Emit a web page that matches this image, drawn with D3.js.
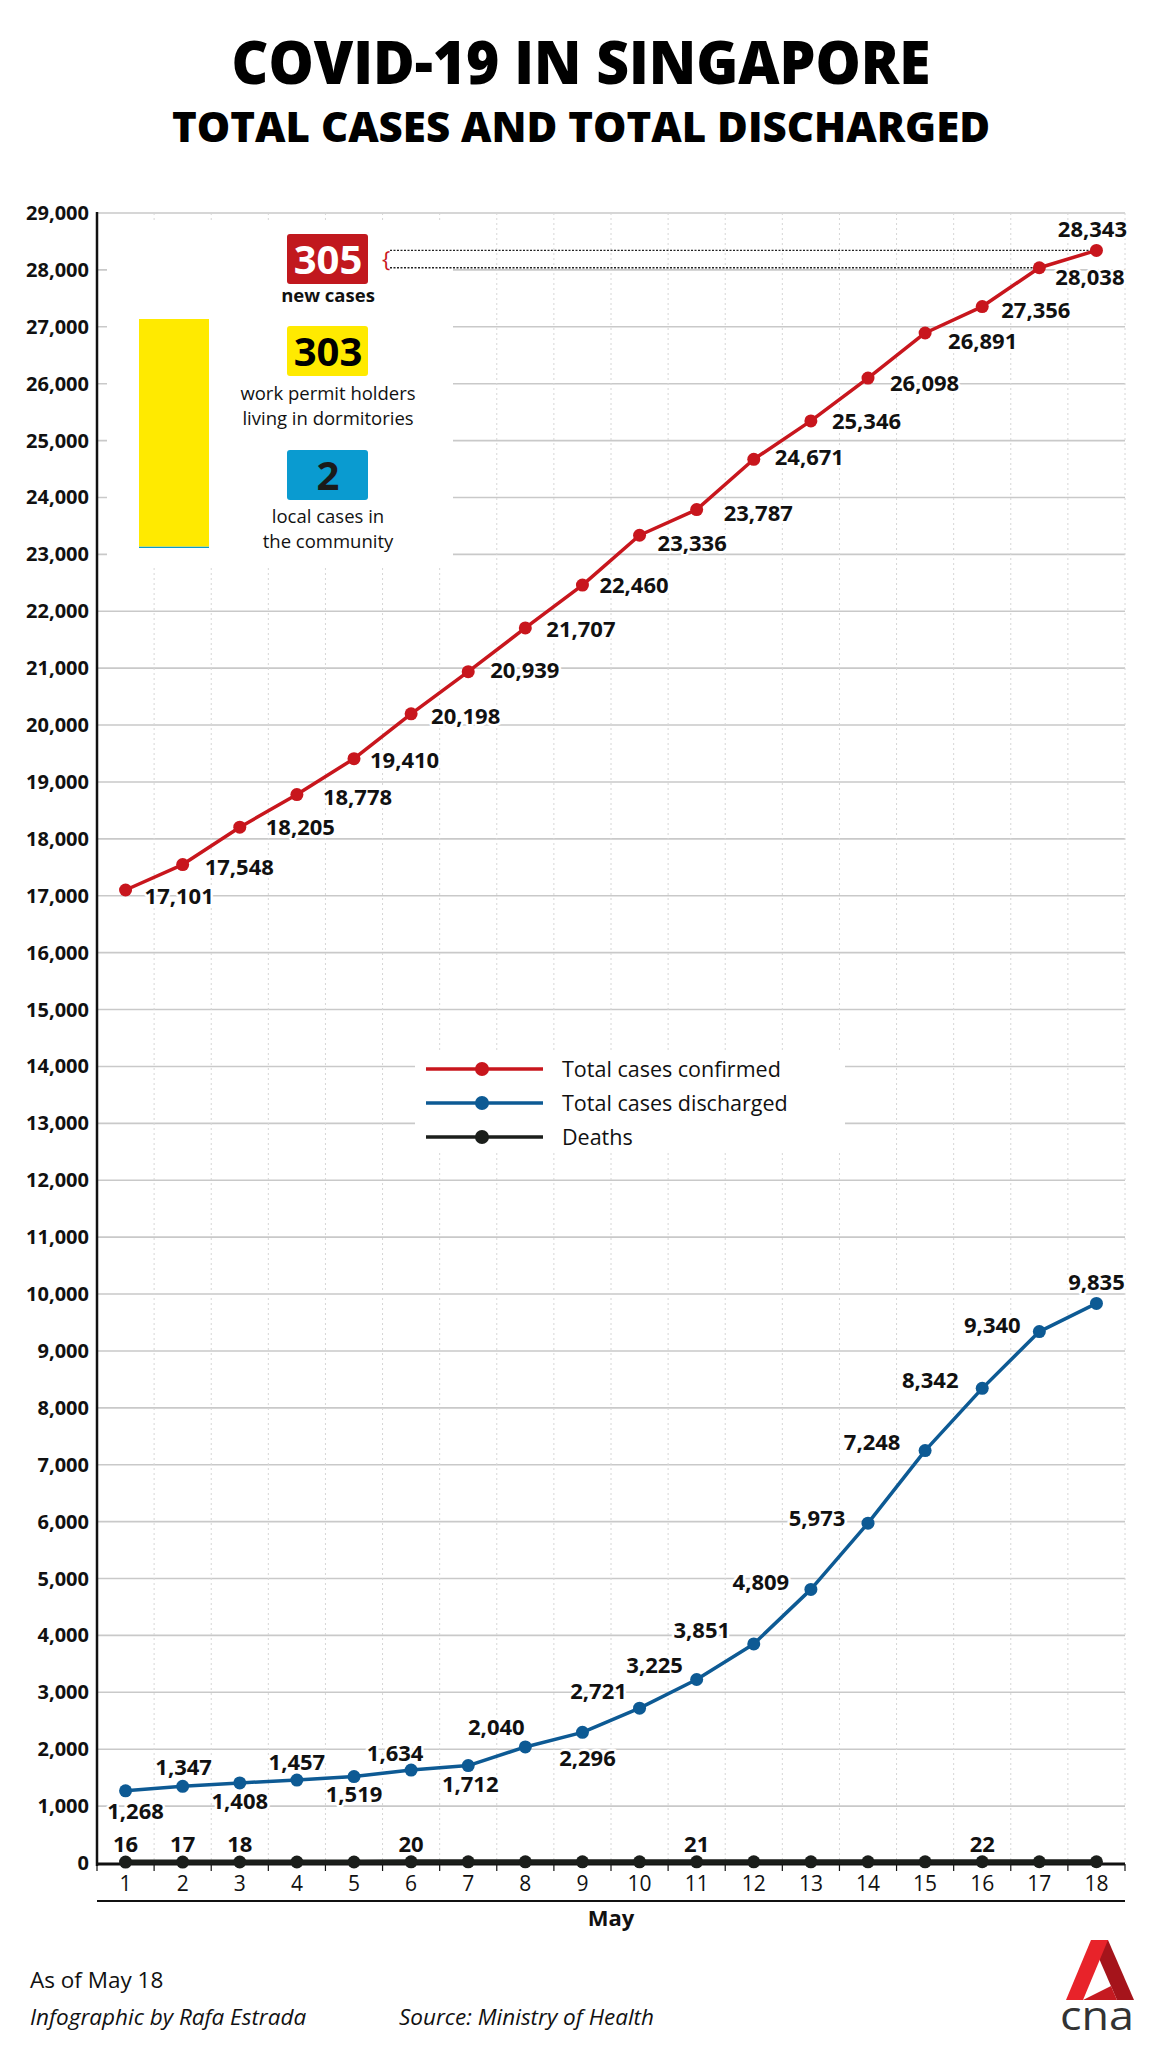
<!DOCTYPE html>
<html>
<head>
<meta charset="utf-8">
<script src="https://cdn.jsdelivr.net/npm/d3@7"></script>
<style>
  html, body { margin: 0; padding: 0; background: #fff; }
  svg { display: block; }
</style>
</head>
<body>
<div id="chart"></div>
<script>
// ---------------- DATA ----------------
const days = [1,2,3,4,5,6,7,8,9,10,11,12,13,14,15,16,17,18];
const totalConfirmed = [17101,17548,18205,18778,19410,20198,20939,21707,22460,23336,23787,24671,25346,26098,26891,27356,28038,28343];
const totalDischarged = [1268,1347,1408,1457,1519,1634,1712,2040,2296,2721,3225,3851,4809,5973,7248,8342,9340,9835];
const deaths = [16,17,18,18,18,20,20,20,20,20,21,21,21,21,21,22,22,22];
const deathLabelIdx = [0,1,2,5,10,15];
const yTicks = d3.range(0, 29001, 1000);
const newCases = 305;
const newCasesParts = [
  {label: "work permit holders", label2: "living in dormitories", value: 303, color: "#ffea00"},
  {label: "local cases in", label2: "the community", value: 2, color: "#0a9bd0"}
];
const legendItems = [
  {name: "Total cases confirmed", color: "#c8161d"},
  {name: "Total cases discharged", color: "#0d5a94"},
  {name: "Deaths", color: "#1b1e1b"}
];

// label placement (layout only)
const redOff = [[19,14],[22,10],[26,8],[26,10],[16,9],[20,10],[22,6],[21,9],[17,8],[18,16],[27,11],[21,6],[21,8],[22,13],[23,16],[19,11],[16,17],[-4,-13]];
const blueOff = [[10,28],[1,-11],[0,26],[0,-10],[0,25],[-16,-9],[2,26],[-29,-12],[5,34],[-41,-9],[-42,-7],[-52,-6],[-50,1],[-51,3],[-53,-1],[-52,0],[-47,1],[0,-13]];

// ---------------- SETUP ----------------
const W = 1152, H = 2048;
const svg = d3.select("#chart").append("svg").attr("width", W).attr("height", H);
svg.append("rect").attr("width", W).attr("height", H).attr("fill", "#fff");

const bodyFont = "'Open Sans', 'Noto Sans', sans-serif";
const condFont = "'Liberation Sans Narrow', 'Open Sans', sans-serif";

// Title
svg.append("text").attr("x", 581).attr("y", 84).attr("text-anchor", "middle")
  .attr("font-family", bodyFont).attr("font-weight", 800).attr("font-size", 61)
  .attr("textLength", 699).attr("lengthAdjust", "spacingAndGlyphs").attr("fill", "#000")
  .text("COVID-19 IN SINGAPORE");
svg.append("text").attr("x", 581).attr("y", 142).attr("text-anchor", "middle")
  .attr("font-family", bodyFont).attr("font-weight", 800).attr("font-size", 42)
  .attr("textLength", 818).attr("lengthAdjust", "spacingAndGlyphs").attr("fill", "#000")
  .text("TOTAL CASES AND TOTAL DISCHARGED");

// Scales
const x = d3.scaleBand().domain(days).range([97, 1125]).padding(0);
const y = d3.scaleLinear().domain([0, 29000]).range([1863, 213]);
const cx = d => x(d) + x.bandwidth() / 2;

// Grid
const grid = svg.append("g");
grid.selectAll("line.h").data(yTicks.filter(v => v > 0)).join("line")
  .attr("x1", 97).attr("x2", 1125).attr("y1", d => y(d)).attr("y2", d => y(d))
  .attr("stroke", "#c9c9c9").attr("stroke-width", 1.6);
grid.selectAll("line.v").data(days.slice(1).concat([null])).join("line")
  .attr("x1", (d, i) => 97 + (i + 1) * x.bandwidth())
  .attr("x2", (d, i) => 97 + (i + 1) * x.bandwidth())
  .attr("y1", 213).attr("y2", 1863)
  .attr("stroke", "#d6d6d6").attr("stroke-width", 1).attr("stroke-dasharray", "2,3");

// White panels over the grid (inset & legend)
svg.append("rect").attr("x", 107).attr("y", 221).attr("width", 346).attr("height", 347).attr("fill", "#fff");
svg.append("rect").attr("x", 415).attr("y", 1053).attr("width", 430).attr("height", 97).attr("fill", "#fff");

// Y axis
const yAxisG = svg.append("g");
yAxisG.append("line").attr("x1", 97).attr("x2", 97).attr("y1", 212).attr("y2", 1866)
  .attr("stroke", "#111").attr("stroke-width", 2.5);
yAxisG.selectAll("text").data(yTicks).join("text")
  .attr("x", 89).attr("y", d => y(d) + 7).attr("text-anchor", "end")
  .attr("font-family", condFont).attr("font-weight", 700).attr("font-size", 20).attr("fill", "#111")
  .text(d => d3.format(",")(d));

// X axis
const xAxisG = svg.append("g");
xAxisG.append("line").attr("x1", 96).attr("x2", 1125).attr("y1", 1864).attr("y2", 1864)
  .attr("stroke", "#111").attr("stroke-width", 3);
xAxisG.selectAll("line.t").data(d3.range(0, 19)).join("line")
  .attr("x1", i => 97 + i * x.bandwidth()).attr("x2", i => 97 + i * x.bandwidth())
  .attr("y1", 1864).attr("y2", 1871).attr("stroke", "#111").attr("stroke-width", 1.2);
xAxisG.selectAll("text").data(days).join("text")
  .attr("x", d => cx(d)).attr("y", 1891).attr("text-anchor", "middle")
  .attr("font-family", condFont).attr("font-size", 21).attr("fill", "#111")
  .text(d => d);
xAxisG.append("line").attr("x1", 97).attr("x2", 1125).attr("y1", 1901).attr("y2", 1901)
  .attr("stroke", "#111").attr("stroke-width", 2);
xAxisG.append("text").attr("x", 611).attr("y", 1926).attr("text-anchor", "middle")
  .attr("font-family", condFont).attr("font-weight", 700).attr("font-size", 22).attr("fill", "#111")
  .text("May");

// Connector from inset to last two points
const conn = svg.append("g");
[[totalConfirmed[17], 17], [totalConfirmed[16], 16]].forEach(([v, i]) => {
  conn.append("line").attr("x1", 390).attr("x2", cx(days[i]))
    .attr("y1", y(v)).attr("y2", y(v))
    .attr("stroke", "#222").attr("stroke-width", 1.3).attr("stroke-dasharray", "2,1.5");
});
conn.append("text").attr("x", 386).attr("y", (y(totalConfirmed[17]) + y(totalConfirmed[16])) / 2 + 8)
  .attr("text-anchor", "middle").attr("font-family", bodyFont).attr("font-size", 22)
  .attr("fill", "#c8161d").text("{");

// Lines
const line = vals => d3.line().x((d, i) => cx(days[i])).y(d => y(d))(vals);
const series = [
  {vals: deaths, color: legendItems[2].color, w: 5},
  {vals: totalDischarged, color: legendItems[1].color, w: 3.5},
  {vals: totalConfirmed, color: legendItems[0].color, w: 3.5}
];
series.forEach(s => {
  svg.append("path").attr("d", line(s.vals)).attr("fill", "none")
    .attr("stroke", s.color).attr("stroke-width", s.w).attr("stroke-linejoin", "round");
  svg.append("g").selectAll("circle").data(s.vals).join("circle")
    .attr("cx", (d, i) => cx(days[i])).attr("cy", d => y(d)).attr("r", 6.5).attr("fill", s.color);
});

// Labels
const fmt = d3.format(",");
const lab = svg.append("g").attr("font-family", bodyFont).attr("font-weight", 700)
  .attr("font-size", 22).attr("fill", "#111")
  .attr("stroke", "#fff").attr("stroke-width", 5).attr("paint-order", "stroke").attr("stroke-linejoin", "round");
lab.selectAll("text.r").data(totalConfirmed).join("text")
  .attr("x", (d, i) => cx(days[i]) + redOff[i][0])
  .attr("y", (d, i) => y(d) + redOff[i][1])
  .attr("text-anchor", (d, i) => i === 17 ? "middle" : "start")
  .text(d => fmt(d));
lab.selectAll("text.b").data(totalDischarged).join("text")
  .attr("x", (d, i) => cx(days[i]) + blueOff[i][0])
  .attr("y", (d, i) => y(d) + blueOff[i][1])
  .attr("text-anchor", "middle")
  .text(d => fmt(d));
lab.selectAll("text.d").data(deathLabelIdx).join("text")
  .attr("x", i => cx(days[i])).attr("y", i => y(deaths[i]) - 10)
  .attr("text-anchor", "middle")
  .text(i => deaths[i]);

// Inset: new cases breakdown
const inset = svg.append("g");
const yb = d3.scaleLinear().domain([0, newCases]).range([548, 319]);
let acc = 0;
newCasesParts.slice().reverse().forEach(p => {
  inset.append("rect").attr("x", 139).attr("width", 70)
    .attr("y", yb(acc + p.value)).attr("height", yb(acc) - yb(acc + p.value)).attr("fill", p.color);
  acc += p.value;
});
const boxes = [
  {value: newCases, color: "#c1181e", text: "#fff", y0: 234},
  {value: newCasesParts[0].value, color: newCasesParts[0].color, text: "#000", y0: 326},
  {value: newCasesParts[1].value, color: newCasesParts[1].color, text: "#1a1a1a", y0: 450}
];
boxes.forEach(b => {
  inset.append("rect").attr("x", 287).attr("y", b.y0).attr("width", 81).attr("height", 50)
    .attr("rx", 3).attr("fill", b.color);
  inset.append("text").attr("x", 328).attr("y", b.y0 + 40).attr("text-anchor", "middle")
    .attr("font-family", bodyFont).attr("font-weight", 700).attr("font-size", 40).attr("fill", b.text)
    .text(b.value);
});
inset.append("text").attr("x", 328).attr("y", 302).attr("text-anchor", "middle")
  .attr("font-family", bodyFont).attr("font-weight", 700).attr("font-size", 18.5).attr("fill", "#111")
  .text("new cases");
[[newCasesParts[0], 400], [newCasesParts[1], 523]].forEach(([p, yy]) => {
  inset.append("text").attr("x", 328).attr("y", yy).attr("text-anchor", "middle")
    .attr("font-family", bodyFont).attr("font-size", 18.5).attr("fill", "#111").text(p.label);
  inset.append("text").attr("x", 328).attr("y", yy + 25).attr("text-anchor", "middle")
    .attr("font-family", bodyFont).attr("font-size", 18.5).attr("fill", "#111").text(p.label2);
});

// Legend
const leg = svg.append("g");
legendItems.forEach((it, i) => {
  const ly = 1069 + i * 34;
  leg.append("line").attr("x1", 426).attr("x2", 543).attr("y1", ly).attr("y2", ly)
    .attr("stroke", it.color).attr("stroke-width", 3.5);
  leg.append("circle").attr("cx", 482).attr("cy", ly).attr("r", 7).attr("fill", it.color);
  leg.append("text").attr("x", 562).attr("y", ly + 8).attr("font-family", bodyFont)
    .attr("font-size", 21.5).attr("fill", "#111").text(it.name);
});

// Footer
svg.append("text").attr("x", 30).attr("y", 1988).attr("font-family", condFont)
  .attr("font-size", 22.5).attr("fill", "#111").text("As of May 18");
svg.append("text").attr("x", 30).attr("y", 2025).attr("font-family", condFont)
  .attr("font-style", "italic").attr("font-size", 22.5).attr("fill", "#111").text("Infographic by Rafa Estrada");
svg.append("text").attr("x", 399).attr("y", 2025).attr("font-family", condFont)
  .attr("font-style", "italic").attr("font-size", 22.5).attr("fill", "#111").text("Source: Ministry of Health");

// Logo
const logo = svg.append("g");
logo.append("path").attr("d", "M1091,1940 L1108,1940 L1134,2000 L1117,2000 Z").attr("fill", "#a5141b");
logo.append("path").attr("d", "M1091,1940 L1108,1940 L1083,2000 L1066,2000 Z").attr("fill", "#e8232a");
logo.append("path").attr("d", "M1083,2000 L1117,2000 L1111,1986 Z").attr("fill", "#c51a21");
logo.append("text").attr("x", 1097).attr("y", 2030).attr("text-anchor", "middle")
  .attr("font-family", condFont).attr("font-size", 40).attr("fill", "#333")
  .attr("textLength", 74).attr("lengthAdjust", "spacingAndGlyphs").text("cna");
</script>
</body>
</html>
